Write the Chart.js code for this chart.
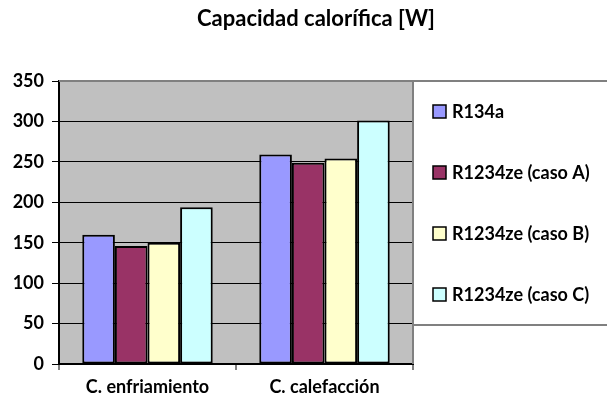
<!DOCTYPE html>
<html>
<head>
<meta charset="utf-8">
<script src="https://cdn.jsdelivr.net/npm/chart.js@4/dist/chart.umd.min.js"></script>
<style>
  html, body { margin: 0; padding: 0; background: #ffffff; }
  #wrap { width: 607px; height: 402px; position: relative; }
</style>
</head>
<body>
<div id="wrap"><canvas id="c" width="607" height="402"></canvas></div>
<script>
const chartTitle = 'Capacidad calorífica [W]';
const categories = ['C. enfriamiento', 'C. calefacción'];
const seriesNames = ['R134a', 'R1234ze (caso A)', 'R1234ze (caso B)', 'R1234ze (caso C)'];
const r134a  = [160, 259];
const casoA  = [146, 249];
const casoB  = [150, 254];
const casoC  = [194, 301];
const yTicks = [0, 50, 100, 150, 200, 250, 300, 350];

const seriesValues = [r134a, casoA, casoB, casoC];
const seriesColors = ['#9999FF', '#993366', '#FFFFCC', '#CCFFFF'];
const FONT = 'Lato';

const decor = {
  id: 'decor',
  beforeDraw(chart) {
    const {ctx, chartArea: a} = chart;
    ctx.save();
    ctx.fillStyle = '#C0C0C0';
    ctx.fillRect(a.left, a.top, a.right - a.left, a.bottom - a.top);
    ctx.restore();
  },
  afterDatasetsDraw(chart) {
    const {ctx, chartArea: a} = chart;
    ctx.save();
    // plot frame (top and right)
    ctx.strokeStyle = '#808080';
    ctx.lineWidth = 2;
    ctx.beginPath();
    ctx.moveTo(a.left, a.top);
    ctx.lineTo(a.right, a.top);
    ctx.lineTo(a.right, a.bottom);
    ctx.stroke();
    // title
    ctx.fillStyle = '#000';
    ctx.font = 'bold 22px ' + FONT;
    ctx.textAlign = 'center';
    ctx.textBaseline = 'middle';
    ctx.fillText(chartTitle, 316, 19);
    // legend
    const lTop = a.top, lBottom = 325, lLeft = a.right, lRight = chart.width + 2;
    ctx.fillStyle = '#ffffff';
    ctx.fillRect(lLeft + 1, lTop + 1, lRight - lLeft, lBottom - lTop - 1);
    ctx.strokeStyle = '#808080';
    ctx.lineWidth = 2;
    ctx.strokeRect(lLeft, lTop, lRight - lLeft, lBottom - lTop);
    const n = chart.data.datasets.length;
    const step = (lBottom - lTop) / n;
    ctx.font = 'bold 18px ' + FONT;
    ctx.textAlign = 'left';
    ctx.textBaseline = 'middle';
    chart.data.datasets.forEach((ds, i) => {
      const cy = lTop + step * (i + 0.5);
      const bx = lLeft + 20, bs = 13;
      ctx.fillStyle = ds.backgroundColor;
      ctx.fillRect(bx, cy - bs / 2, bs, bs);
      ctx.strokeStyle = '#000';
      ctx.lineWidth = 1.5;
      ctx.strokeRect(bx, cy - bs / 2, bs, bs);
      ctx.fillStyle = '#000';
      ctx.fillText(ds.label, lLeft + 39, cy + 1);
    });
    ctx.restore();
  }
};

new Chart(document.getElementById('c'), {
  type: 'bar',
  data: {
    labels: categories,
    datasets: seriesNames.map((name, i) => ({
      label: name,
      data: seriesValues[i],
      backgroundColor: seriesColors[i],
      borderColor: '#000000',
      borderWidth: 2,
      borderSkipped: false
    }))
  },
  options: {
    responsive: false,
    animation: false,
    devicePixelRatio: 1,
    layout: { padding: { top: 81, right: 194, bottom: 0, left: 0 } },
    plugins: { legend: { display: false }, title: { display: false }, tooltip: { enabled: false } },
    datasets: { bar: { categoryPercentage: 0.737, barPercentage: 1.0 } },
    scales: {
      x: {
        offset: true,
        grid: { display: true, drawOnChartArea: false, color: '#808080', lineWidth: 2, tickLength: 6, offset: true },
        border: { display: true, color: '#000000', width: 2 },
        ticks: { color: '#000', font: { family: FONT, size: 18, weight: 'bold' }, padding: 6, maxRotation: 0 },
        afterFit(s) { s.height = 38; }
      },
      y: {
        min: 0, max: 350,
        afterBuildTicks(s) { s.ticks = yTicks.map(v => ({ value: v })); },
        grid: { color: '#000000', lineWidth: 1, tickLength: 7, tickColor: '#000000' },
        border: { display: true, color: '#000000', width: 2 },
        ticks: { color: '#000', font: { family: FONT, size: 18, weight: 'bold' }, padding: 8 },
        afterFit(s) { s.width = 59; }
      }
    }
  },
  plugins: [decor]
});
</script>
</body>
</html>
